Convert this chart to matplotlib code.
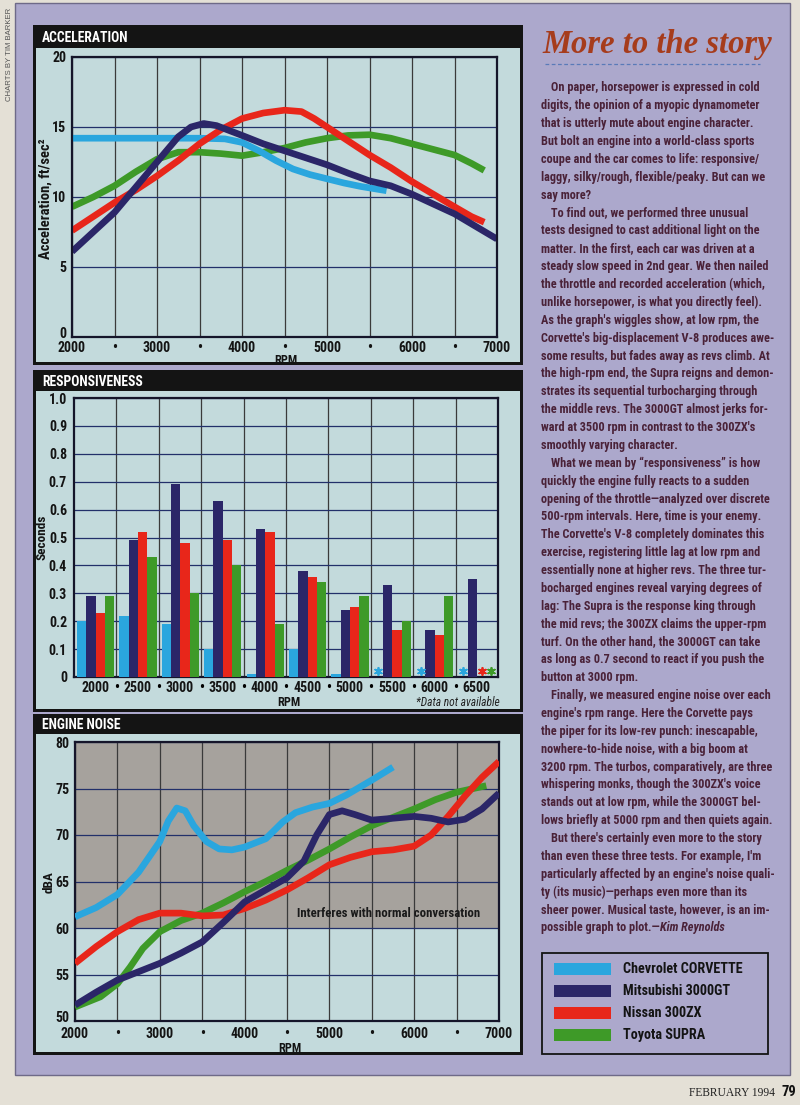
import numpy as np
import matplotlib
matplotlib.use("Agg")
import matplotlib.pyplot as plt
import matplotlib.font_manager as fm
from matplotlib.patches import Rectangle
from matplotlib.transforms import ScaledTranslation

# ---------------- data ----------------
cars = ["Chevrolet CORVETTE", "Mitsubishi 3000GT", "Nissan 300ZX", "Toyota SUPRA"]
colors = ["#2aa6de", "#2b2668", "#e8261a", "#3e9a28"]

# Acceleration (ft/sec^2) vs rpm
acc_vette_rpm = [2000, 2500, 3000, 3500, 3800, 4000, 4200, 4400, 4600, 4800, 5000, 5200, 5400, 5700]
acc_vette = [14.2, 14.2, 14.2, 14.2, 14.15, 13.9, 13.3, 12.6, 12.0, 11.6, 11.3, 11.0, 10.75, 10.45]
acc_gt_rpm = [2000, 2250, 2500, 2750, 3000, 3250, 3400, 3550, 3700, 3850, 4000, 4250, 4500, 4750,
              5000, 5250, 5500, 5750, 6000, 6250, 6500, 6750, 7000]
acc_gt = [6.1, 7.5, 8.9, 10.7, 12.5, 14.3, 15.0, 15.25, 15.1, 14.75, 14.4, 13.8, 13.3, 12.8,
          12.3, 11.7, 11.15, 10.8, 10.2, 9.5, 8.8, 7.9, 7.0]
acc_zx_rpm = [2000, 2250, 2500, 2750, 3000, 3250, 3500, 3750, 4000, 4250, 4500, 4700, 4850, 5000,
              5250, 5500, 5750, 6000, 6250, 6500, 6700, 6850]
acc_zx = [7.6, 8.6, 9.6, 10.5, 11.5, 12.6, 13.8, 14.8, 15.6, 16.0, 16.2, 16.1, 15.6, 15.0,
          14.0, 13.0, 12.1, 11.1, 10.2, 9.3, 8.6, 8.2]
acc_supra_rpm = [2000, 2250, 2500, 2750, 3000, 3250, 3500, 3750, 4000, 4250, 4500, 4750, 5000,
                 5250, 5500, 5750, 6000, 6250, 6500, 6700, 6850]
acc_supra = [9.3, 10.0, 10.8, 11.8, 12.7, 13.2, 13.2, 13.1, 12.95, 13.2, 13.5, 13.9, 14.2,
             14.4, 14.45, 14.2, 13.8, 13.4, 13.0, 12.4, 11.9]

# Responsiveness (seconds) per 500-rpm interval (nan = data not available)
resp_rpm = ["2000", "2500", "3000", "3500", "4000", "4500", "5000", "5500", "6000", "6500"]
resp_vette = [0.20, 0.22, 0.19, 0.10, 0.01, 0.10, 0.01, np.nan, np.nan, np.nan]
resp_gt = [0.29, 0.49, 0.69, 0.63, 0.53, 0.38, 0.24, 0.33, 0.17, 0.35]
resp_zx = [0.23, 0.52, 0.48, 0.49, 0.52, 0.36, 0.25, 0.17, 0.15, np.nan]
resp_supra = [0.29, 0.43, 0.30, 0.40, 0.19, 0.34, 0.29, 0.20, 0.29, np.nan]

# Engine noise (dBA) vs rpm
noise_vette_rpm = [2000, 2250, 2500, 2750, 3000, 3100, 3200, 3300, 3400, 3550, 3700, 3850, 4000,
                   4250, 4450, 4600, 4800, 5000, 5200, 5500, 5750]
noise_vette = [61.2, 62.2, 63.6, 66.0, 69.3, 71.5, 72.9, 72.6, 71.0, 69.3, 68.5, 68.4, 68.7,
               69.6, 71.4, 72.4, 73.0, 73.4, 74.3, 75.9, 77.3]
noise_gt_rpm = [2000, 2250, 2500, 2750, 3000, 3250, 3500, 3750, 4000, 4250, 4500, 4700, 4850,
                5000, 5150, 5300, 5500, 5750, 6000, 6200, 6400, 6600, 6800, 7000]
noise_gt = [51.7, 53.1, 54.4, 55.3, 56.2, 57.3, 58.5, 60.6, 62.8, 64.1, 65.4, 67.2, 70.0,
            72.2, 72.6, 72.2, 71.6, 71.8, 72.0, 71.8, 71.4, 71.7, 72.8, 74.5]
noise_zx_rpm = [2000, 2250, 2500, 2750, 3000, 3250, 3500, 3750, 4000, 4250, 4500, 4750, 5000,
                5250, 5500, 5750, 6000, 6200, 6400, 6600, 6800, 7000]
noise_zx = [56.2, 58.0, 59.6, 60.9, 61.6, 61.6, 61.3, 61.4, 62.1, 63.0, 64.1, 65.4, 66.8,
            67.6, 68.2, 68.4, 68.8, 70.0, 72.0, 74.2, 76.2, 77.9]
noise_supra_rpm = [2000, 2300, 2500, 2650, 2800, 3000, 3250, 3500, 3750, 4000, 4250, 4500, 4750,
                   5000, 5250, 5500, 5750, 6000, 6250, 6500, 6850]
noise_supra = [51.5, 52.6, 54.0, 55.8, 57.8, 59.6, 60.8, 61.6, 62.7, 63.9, 65.0, 66.2, 67.3,
               68.5, 69.8, 71.0, 71.9, 72.8, 73.8, 74.6, 75.3]

rpm_ticks = [2000, 2500, 3000, 3500, 4000, 4500, 5000, 5500, 6000, 6500, 7000]
rpm_labels = ["2000", "•", "3000", "•", "4000", "•", "5000", "•", "6000", "•", "7000"]

body_lines = [
    ("On paper, horsepower is expressed in cold", True),
    ("digits, the opinion of a myopic dynamometer", False),
    ("that is utterly mute about engine character.", False),
    ("But bolt an engine into a world-class sports", False),
    ("coupe and the car comes to life: responsive/", False),
    ("laggy, silky/rough, flexible/peaky. But can we", False),
    ("say more?", False),
    ("To find out, we performed three unusual", True),
    ("tests designed to cast additional light on the", False),
    ("matter. In the first, each car was driven at a", False),
    ("steady slow speed in 2nd gear. We then nailed", False),
    ("the throttle and recorded acceleration (which,", False),
    ("unlike horsepower, is what you directly feel).", False),
    ("As the graph's wiggles show, at low rpm, the", False),
    ("Corvette's big-displacement V-8 produces awe-", False),
    ("some results, but fades away as revs climb. At", False),
    ("the high-rpm end, the Supra reigns and demon-", False),
    ("strates its sequential turbocharging through", False),
    ("the middle revs. The 3000GT almost jerks for-", False),
    ("ward at 3500 rpm in contrast to the 300ZX's", False),
    ("smoothly varying character.", False),
    ("What we mean by “responsiveness” is how", True),
    ("quickly the engine fully reacts to a sudden", False),
    ("opening of the throttle—analyzed over discrete", False),
    ("500-rpm intervals. Here, time is your enemy.", False),
    ("The Corvette's V-8 completely dominates this", False),
    ("exercise, registering little lag at low rpm and", False),
    ("essentially none at higher revs. The three tur-", False),
    ("bocharged engines reveal varying degrees of", False),
    ("lag: The Supra is the response king through", False),
    ("the mid revs; the 300ZX claims the upper-rpm", False),
    ("turf. On the other hand, the 3000GT can take", False),
    ("as long as 0.7 second to react if you push the", False),
    ("button at 3000 rpm.", False),
    ("Finally, we measured engine noise over each", True),
    ("engine's rpm range. Here the Corvette pays", False),
    ("the piper for its low-rev punch: inescapable,", False),
    ("nowhere-to-hide noise, with a big boom at", False),
    ("3200 rpm. The turbos, comparatively, are three", False),
    ("whispering monks, though the 300ZX's voice", False),
    ("stands out at low rpm, while the 3000GT bel-", False),
    ("lows briefly at 5000 rpm and then quiets again.", False),
    ("But there's certainly even more to the story", True),
    ("than even these three tests. For example, I'm", False),
    ("particularly affected by an engine's noise quali-", False),
    ("ty (its music)—perhaps even more than its", False),
    ("sheer power. Musical taste, however, is an im-", False),
    ("possible graph to plot.—", False),
]
signature = "Kim Reynolds"

# ---------------- fonts ----------------
avail = {f.name for f in fm.fontManager.ttflist}
def pick(*names):
    for n in names:
        if n in avail:
            return n
    return "DejaVu Sans"
NARROW = pick("Liberation Sans Narrow", "Roboto Condensed", "Open Sans Condensed", "Roboto", "Liberation Sans")
SERIF = pick("Liberation Serif", "DejaVu Serif")
FAM = [NARROW, "DejaVu Sans"]

# ---------------- colours ----------------
PAGE = "#e4e0d6"
LAV = "#aca8cc"
PANEL = "#c3dadc"
BAND = "#a6a29d"
INK = "#141414"
TEXT = "#4a2238"
VGRID = "#3a3a3a"
HGRID = "#22306a"

W, H = 800, 1105
fig = plt.figure(figsize=(W / 100, H / 100), dpi=100, facecolor=PAGE)

bg = fig.add_axes([0, 0, 1, 1], zorder=-5)
bg.set_xlim(0, W)
bg.set_ylim(H, 0)
bg.axis("off")

def rect_px(l, t, r, b):
    return [l / W, 1 - b / H, (r - l) / W, (b - t) / H]

# lavender page block
bg.add_patch(Rectangle((15, 3), 775, 1072, facecolor=LAV, edgecolor="#6e6a88", lw=1.0))
bg.text(10, 8, "CHARTS BY TIM BARKER", rotation=90, ha="center", va="top",
        fontsize=5.6, color="#555", family=["Liberation Sans", "DejaVu Sans"])

# chart panels
panels = [(25, 48, 365, "ACCELERATION"), (370, 391, 712, "RESPONSIVENESS"), (714, 734, 1055, "ENGINE NOISE")]
for top, htop, bot, title in panels:
    bg.add_patch(Rectangle((33, top), 490, bot - top, facecolor=INK, edgecolor="none"))
    bg.add_patch(Rectangle((36, htop), 484, bot - htop - 3, facecolor=PANEL, edgecolor="none"))
    bg.text(42, (top + htop) / 2 + 1, title, color="white", fontsize=9.8, fontweight="bold",
            family=FAM, ha="left", va="center")

def style_axes(ax, xsize=10, ysize=10.5):
    ax.set_facecolor(PANEL)
    for s in ax.spines.values():
        s.set_color("#15152a")
        s.set_linewidth(1.6)
    ax.tick_params(length=0, labelcolor=INK)
    ax.tick_params(axis="x", which="both", labelsize=xsize)
    ax.tick_params(axis="y", labelsize=ysize)
    for lab in ax.get_xticklabels() + ax.get_yticklabels() + ax.get_xticklabels(minor=True):
        lab.set_fontweight("bold")
        lab.set_family(FAM)
    ax.set_axisbelow(True)

def lift_first_ylabel(ax, px):
    lab = ax.get_yticklabels()[0]
    lab.set_transform(lab.get_transform() + ScaledTranslation(0, px / 100, fig.dpi_scale_trans))

# ---------------- Acceleration ----------------
ax1 = fig.add_axes(rect_px(72, 57, 497, 337))
ax1.set_xlim(2000, 7000)
ax1.set_ylim(0, 20)
ax1.set_xticks(rpm_ticks)
ax1.set_xticklabels(rpm_labels)
ax1.set_yticks([0, 5, 10, 15, 20])
ax1.xaxis.grid(True, color=VGRID, lw=0.9)
ax1.yaxis.grid(True, color=HGRID, lw=0.9)
ax1.tick_params(axis="x", pad=3)
ax1.tick_params(axis="y", pad=4)
for xr, yv, c in [(acc_supra_rpm, acc_supra, colors[3]), (acc_vette_rpm, acc_vette, colors[0]),
                  (acc_zx_rpm, acc_zx, colors[2]), (acc_gt_rpm, acc_gt, colors[1])]:
    ax1.plot(xr, yv, color=c, lw=4.8, solid_joinstyle="round", solid_capstyle="butt")
style_axes(ax1, xsize=10, ysize=10)
lift_first_ylabel(ax1, 4)
bg.text(46, 199, "Acceleration, ft/sec²", rotation=90, ha="center", va="center",
        fontsize=10.5, fontweight="bold", family=FAM, color=INK)
bg.text(286, 361, "RPM", ha="center", va="center", fontsize=8.8, fontweight="bold", family=FAM, color=INK)

# ---------------- Responsiveness ----------------
ax2 = fig.add_axes(rect_px(74, 398, 498, 677))
xpos = np.arange(len(resp_rpm))
ax2.set_xlim(-0.5, len(resp_rpm) - 0.5)
ax2.set_ylim(0, 1.0)
bw = 0.22
series = [resp_vette, resp_gt, resp_zx, resp_supra]
for k, (vals, c) in enumerate(zip(series, colors)):
    v = np.array(vals, dtype=float)
    off = (k - 1.5) * bw + 0.01
    m = ~np.isnan(v)
    ax2.bar(xpos[m] + off, v[m], width=bw, color=c, edgecolor="none", zorder=3)
    if (~m).any():
        ax2.scatter(xpos[~m] + off, np.full((~m).sum(), 0.022), marker=(6, 2, 0), s=28,
                    color=c, linewidths=1.3, zorder=4)
ax2.set_xticks(xpos)
ax2.set_xticklabels(resp_rpm)
ax2.set_xticks(xpos[:-1] + 0.5, minor=True)
ax2.set_xticklabels(["•"] * (len(resp_rpm) - 1), minor=True)
ax2.xaxis.grid(True, which="minor", color=VGRID, lw=0.9)
ax2.set_yticks(np.round(np.arange(0, 1.01, 0.1), 1))
ax2.set_yticklabels(["0"] + [f"{v:.1f}" for v in np.arange(0.1, 1.01, 0.1)])
ax2.yaxis.grid(True, color=HGRID, lw=0.9)
ax2.tick_params(axis="x", which="both", pad=3, length=0)
ax2.tick_params(axis="y", pad=5)
style_axes(ax2, xsize=10, ysize=10)
bg.text(42, 537, "Seconds", rotation=90, ha="center", va="center",
        fontsize=9.5, fontweight="bold", family=FAM, color=INK)
bg.text(289, 702, "RPM", ha="center", va="center", fontsize=8.8, fontweight="bold", family=FAM, color=INK)
bg.text(500, 702, "*Data not available", ha="right", va="center", fontsize=8.3, style="italic",
        family=FAM, color="#222")

# ---------------- Engine noise ----------------
ax3 = fig.add_axes(rect_px(75, 742, 499, 1021))
ax3.set_xlim(2000, 7000)
ax3.set_ylim(50, 80)
ax3.axhspan(60, 80, color=BAND, zorder=0, lw=0)
ax3.set_xticks(rpm_ticks)
ax3.set_xticklabels(rpm_labels)
ax3.set_yticks([50, 55, 60, 65, 70, 75, 80])
ax3.xaxis.grid(True, color=VGRID, lw=0.9)
ax3.yaxis.grid(True, color=HGRID, lw=0.9)
ax3.tick_params(axis="x", pad=4)
ax3.tick_params(axis="y", pad=4)
ax3.text(4620, 61.6, "Interferes with normal conversation", fontsize=9.2, fontweight="bold",
         family=FAM, color="#1a1a1a", ha="left", va="center", zorder=2)
for xr, yv, c in [(noise_supra_rpm, noise_supra, colors[3]), (noise_zx_rpm, noise_zx, colors[2]),
                  (noise_gt_rpm, noise_gt, colors[1]), (noise_vette_rpm, noise_vette, colors[0])]:
    ax3.plot(xr, yv, color=c, lw=4.8, solid_joinstyle="round", solid_capstyle="butt", zorder=3)
style_axes(ax3, xsize=10, ysize=10)
lift_first_ylabel(ax3, 4)
bg.text(49, 882, "dBA", rotation=90, ha="center", va="center",
        fontsize=9.5, fontweight="bold", family=FAM, color=INK)
bg.text(290, 1049, "RPM", ha="center", va="center", fontsize=8.8, fontweight="bold", family=FAM, color=INK)

# ---------------- right column ----------------
bg.text(657, 45, "More to the story", ha="center", va="center", fontsize=23.5, fontweight="bold",
        style="italic", family=[SERIF, "DejaVu Serif"], color="#a63c1c")
bg.plot([545, 760], [64, 64], color="#5a7ab8", lw=0.9, ls=(0, (3, 2)))

# fit body font size to the column width
renderer = fig.canvas.get_renderer()
probe = bg.text(0, 0, "that is utterly mute about engine character.", fontsize=10,
                fontweight="bold", family=FAM)
wpx = probe.get_window_extent(renderer).width
probe.remove()
body_fs = 10 * 212 / wpx
y0, dy = 88, 17.87
for i, (line, indent) in enumerate(body_lines):
    x = 551 if indent else 541
    t = bg.text(x, y0 + i * dy, line, fontsize=body_fs, fontweight="bold", family=FAM,
                color=TEXT, ha="left", va="center")
last = t
bb = last.get_window_extent(renderer)
xend = bg.transData.inverted().transform((bb.x1, bb.y0))[0]
bg.text(xend + 0.5, y0 + (len(body_lines) - 1) * dy, signature, fontsize=body_fs, fontweight="bold",
        style="italic", family=FAM, color=TEXT, ha="left", va="center")

# legend box
bg.add_patch(Rectangle((542, 953), 226, 101, facecolor="none", edgecolor=INK, lw=1.3))
for k, (name, c) in enumerate(zip(cars, colors)):
    yy = 969 + k * 22
    bg.add_patch(Rectangle((554, yy - 6), 57, 12, facecolor=c, edgecolor="none"))
    bg.text(623, yy, name, fontsize=10.2, fontweight="bold", family=FAM, color=INK,
            ha="left", va="center")

# footer
bg.text(775, 1093, "FEBRUARY 1994", fontsize=8.3, family=[SERIF, "DejaVu Serif"], color="#222",
        ha="right", va="center")
bg.text(781, 1092, "79", fontsize=10.5, fontweight="bold", family=FAM, color="#111",
        ha="left", va="center")

fig.savefig("out.png", dpi=100, facecolor=PAGE)
